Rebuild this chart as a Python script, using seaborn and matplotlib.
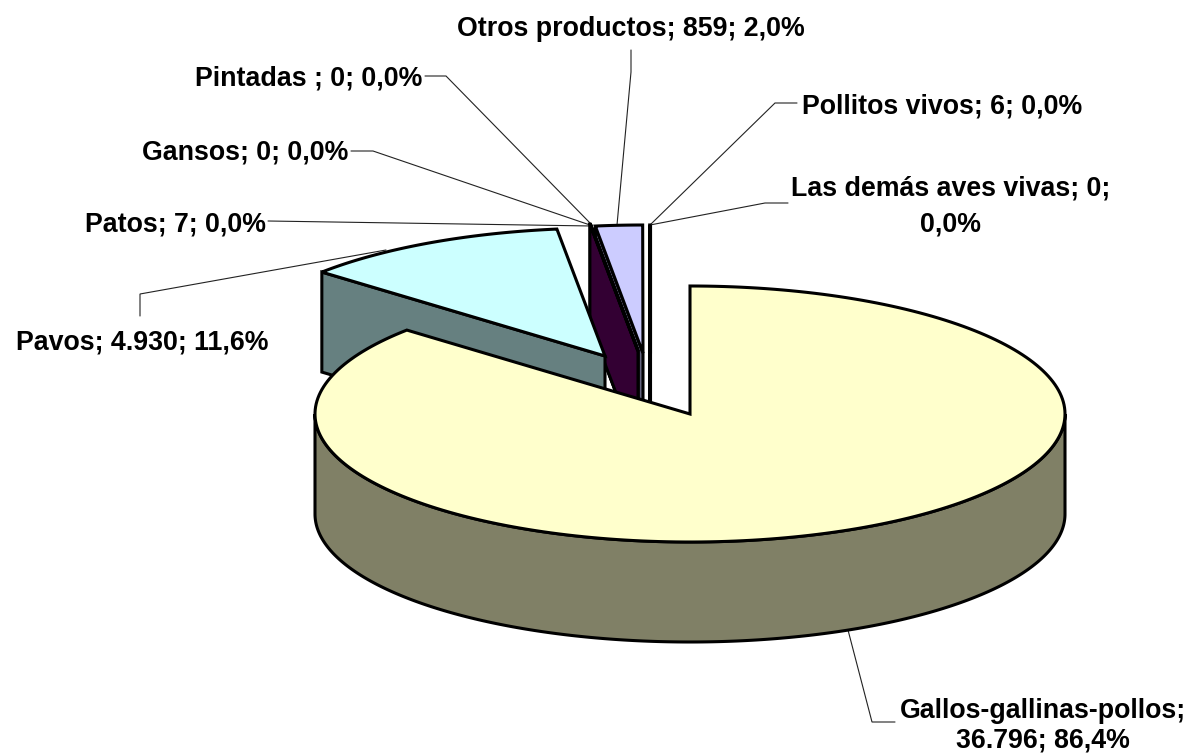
import numpy as np
import matplotlib
matplotlib.use('Agg')
import matplotlib.pyplot as plt
import seaborn as sns
from matplotlib.patches import Polygon

# Data
names = ['Gallos-gallinas-pollos', 'Pavos', 'Patos', 'Gansos', 'Pintadas',
         'Otros productos', 'Pollitos vivos', 'Las demás aves vivas']
values = [36796, 4930, 7, 0, 0, 859, 6, 0]
labels = ['Gallos-gallinas-pollos;\n36.796; 86,4%', 'Pavos; 4.930; 11,6%', 'Patos; 7; 0,0%',
          'Gansos; 0; 0,0%', 'Pintadas ; 0; 0,0%', 'Otros productos; 859; 2,0%',
          'Pollitos vivos; 6; 0,0%', 'Las demás aves vivas; 0;\n0,0%']
hex_colors = ['#FFFFCC', '#CCFFFF', '#660066', '#FF8080', '#0066CC', '#CCCCFF', '#000080', '#FF00FF']

# Layout in pixels: apex of each exploded slice
apex_x = [690, 605, 638, 638, 638, 643, 650, 650]
apex_y = [414, 356, 351, 351, 351, 353, 353, 353]
radius_x, radius_y, depth = 375, 128, 100

# Text anchors: x, first baseline, gap to second line, alignment
text_x = [1043, 16, 85, 142, 195, 457, 802, 951]
text_y = [718, 350, 231, 159, 86, 36, 114, 196]
text_gap = [29, 0, 0, 0, 0, 0, 0, 36]
text_ha = ['center', 'left', 'left', 'left', 'left', 'left', 'left', 'center']

# Leader lines
leaders = [
    [(848, 630), (872, 722), (895, 722)],
    [(140, 316), (140, 294), (386, 250)],
    [(268, 221), (592, 226)],
    [(351, 151), (373, 151), (590, 225)],
    [(425, 76), (446, 76), (592, 225)],
    [(631, 50), (631, 72), (617, 225)],
    [(797, 103), (775, 103), (650, 225)],
    [(788, 203), (765, 203), (650, 225)],
]

sns.set_theme(style='white')
plt.rcParams['font.family'] = ['Liberation Sans', 'DejaVu Sans']
palette = sns.color_palette(hex_colors)

fig = plt.figure(figsize=(11.95, 7.54), dpi=100)
ax = fig.add_axes([0, 0, 1, 1])
ax.set_xlim(0, 1195)
ax.set_ylim(754, 0)
ax.axis('off')

shares = np.array(values) / sum(values) * 360
ends = np.cumsum(shares)
starts = ends - shares


def arc(i, t0, t1):
    t = np.radians(np.linspace(t0, t1, 240))
    return np.column_stack([apex_x[i] + radius_x * np.sin(t), apex_y[i] - radius_y * np.cos(t)])


def add_face(points, color, z):
    ax.add_patch(Polygon(points, closed=True, facecolor=color, edgecolor='black',
                         linewidth=2.2, joinstyle='miter', zorder=z))


# Back slices first, the big slice last
for z, i in enumerate(range(len(values) - 1, -1, -1)):
    top = palette[i]
    side = tuple(np.array(top) * 0.5)
    apex = (apex_x[i], apex_y[i])
    drop = np.array([0, depth])
    # outer wall, only the front half shows
    t0, t1 = max(starts[i], 90), min(ends[i], 270)
    if t1 > t0:
        rim = arc(i, t0, t1)
        add_face(np.vstack([rim, (rim + drop)[::-1]]), side, z * 3 + 1)
    # radial wall on the opening edge
    if 180 <= starts[i] <= 360:
        edge = arc(i, starts[i], starts[i])[0]
        add_face([apex, edge, edge + drop, np.array(apex) + drop], side, z * 3 + 2)
    add_face(np.vstack([[apex], arc(i, starts[i], ends[i])]), top, z * 3 + 3)

for pts in leaders:
    xs, ys = zip(*pts)
    ax.plot(xs, ys, color='#222222', linewidth=0.8, zorder=0, solid_joinstyle='miter')

for i, label in enumerate(labels):
    for k, line in enumerate(label.split('\n')):
        ax.text(text_x[i], text_y[i] + k * text_gap[i], line, ha=text_ha[i], va='baseline',
                fontsize=19.3, fontweight='bold', color='black', zorder=50)

fig.savefig('out.png', dpi=100, facecolor='white')
